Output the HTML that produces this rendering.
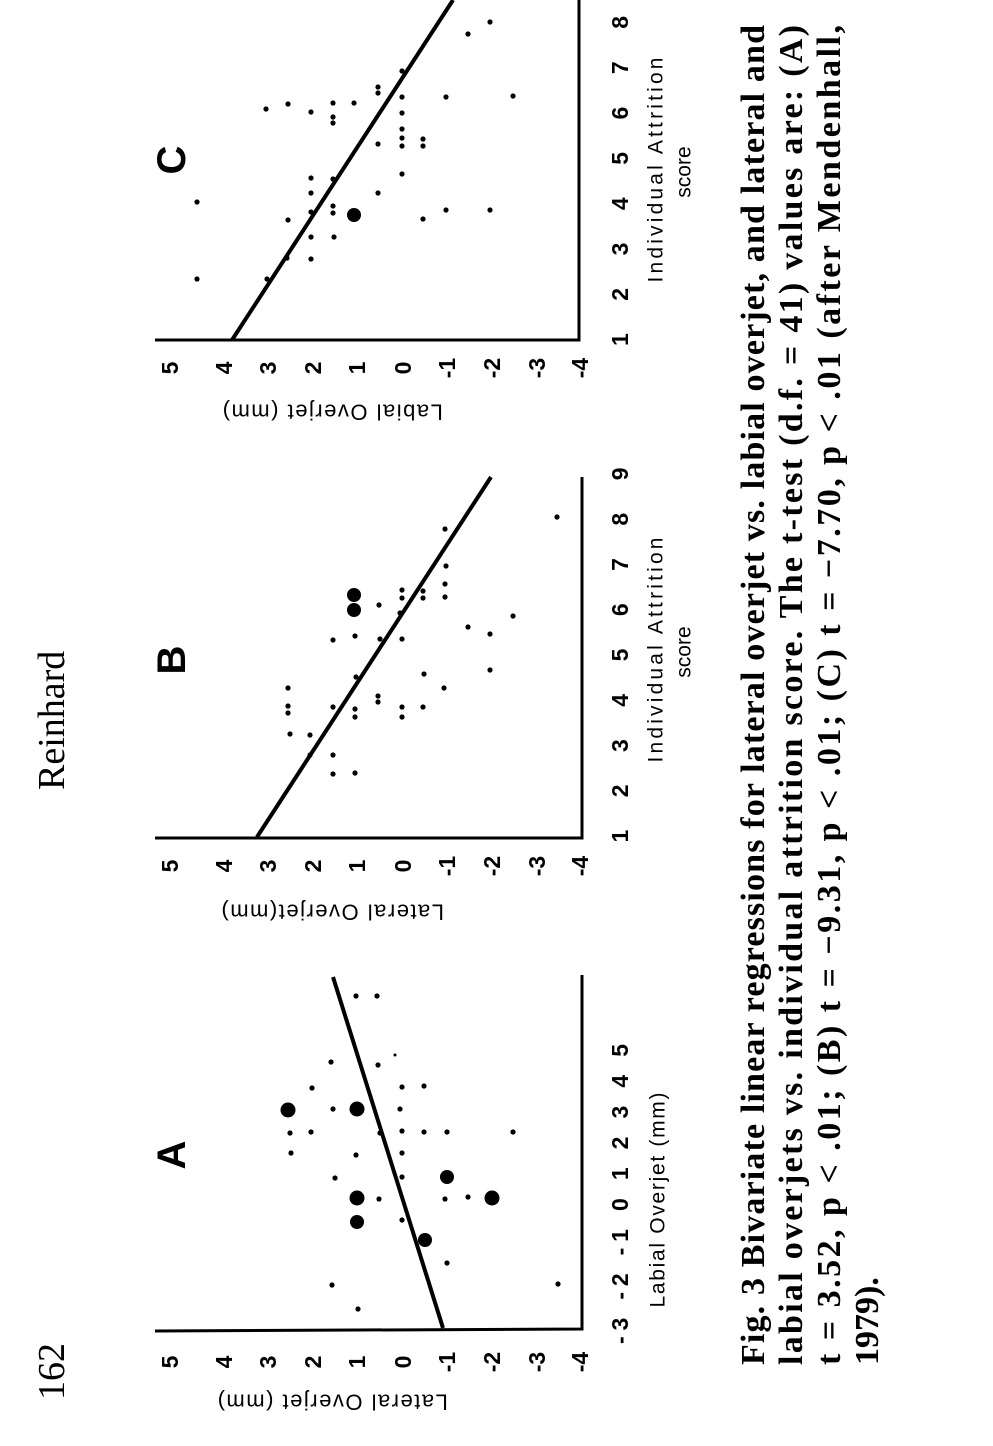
<!DOCTYPE html>
<html><head><meta charset="utf-8"><style>
html,body{margin:0;padding:0;background:#fff;}
svg{display:block;}
.t{font-family:"Liberation Sans",sans-serif;fill:#000;}
.s{font-family:"Liberation Serif",serif;font-weight:bold;fill:#000;}
</style></head><body>
<svg width="993" height="1446" viewBox="0 0 993 1446" xmlns="http://www.w3.org/2000/svg">
<rect width="993" height="1446" fill="#fff"/>
<text class="s" style="font-weight:normal;font-size:38px" x="64" y="1400" transform="rotate(-90 64 1400)">162</text>
<text class="s" style="font-weight:normal;font-size:38px" x="64" y="790" transform="rotate(-90 64 790)">Reinhard</text>

<g stroke="#000" fill="none">
<polyline points="155,1331 582,1329 582,975" stroke-width="3"/>
<polyline points="155,838 582,838 582,477" stroke-width="3"/>
<polyline points="155,340 579,340 579,0" stroke-width="3"/>
<line x1="333" y1="977" x2="443" y2="1328" stroke-width="4"/>
<line x1="257" y1="837" x2="491" y2="477" stroke-width="4"/>
<line x1="232" y1="340" x2="453" y2="0" stroke-width="4"/>
</g>

<g fill="#000">
<circle cx="356" cy="996" r="2.6"/><circle cx="377" cy="996" r="2.6"/><circle cx="331" cy="1062" r="2.6"/><circle cx="378" cy="1065" r="2.6"/><circle cx="395" cy="1055" r="1.5"/><circle cx="312" cy="1088" r="2.6"/><circle cx="402" cy="1087" r="2.6"/><circle cx="424" cy="1086" r="2.6"/><circle cx="333" cy="1109" r="2.6"/><circle cx="400" cy="1109" r="2.6"/><circle cx="290" cy="1133" r="2.6"/><circle cx="311" cy="1132" r="2.6"/><circle cx="380" cy="1133" r="2.6"/><circle cx="402" cy="1131" r="2.6"/><circle cx="424" cy="1132" r="2.6"/><circle cx="447" cy="1132" r="2.6"/><circle cx="513" cy="1132" r="2.6"/><circle cx="291" cy="1153" r="2.6"/><circle cx="356" cy="1155" r="2.6"/><circle cx="402" cy="1153" r="2.6"/><circle cx="335" cy="1178" r="2.6"/><circle cx="402" cy="1177" r="2.6"/><circle cx="379" cy="1199" r="2.6"/><circle cx="445" cy="1199" r="2.6"/><circle cx="468" cy="1197" r="2.6"/><circle cx="402" cy="1220" r="2.6"/><circle cx="447" cy="1263" r="2.6"/><circle cx="332" cy="1285" r="2.6"/><circle cx="558" cy="1284" r="2.6"/><circle cx="358" cy="1309" r="2.6"/>
<circle cx="288" cy="1110" r="7.5"/><circle cx="357" cy="1109" r="7.5"/><circle cx="447" cy="1177" r="7"/><circle cx="357" cy="1198" r="7.5"/><circle cx="492" cy="1198" r="7.5"/><circle cx="357" cy="1222" r="7"/><circle cx="425" cy="1240" r="7"/>
<circle cx="445" cy="529" r="2.6"/><circle cx="557" cy="517" r="2.6"/><circle cx="446" cy="566" r="2.6"/><circle cx="445" cy="584" r="2.6"/><circle cx="445" cy="597" r="2.6"/><circle cx="402" cy="590" r="2.6"/><circle cx="402" cy="598" r="2.6"/><circle cx="423" cy="591" r="2.6"/><circle cx="423" cy="598" r="2.6"/><circle cx="379" cy="605" r="2.6"/><circle cx="400" cy="613" r="2.6"/><circle cx="513" cy="616" r="2.6"/><circle cx="468" cy="627" r="2.6"/><circle cx="490" cy="634" r="2.6"/><circle cx="333" cy="640" r="2.6"/><circle cx="355" cy="636" r="2.6"/><circle cx="380" cy="639" r="2.6"/><circle cx="402" cy="639" r="2.6"/><circle cx="490" cy="670" r="2.6"/><circle cx="424" cy="674" r="2.6"/><circle cx="356" cy="677" r="2.6"/><circle cx="444" cy="688" r="2.6"/><circle cx="288" cy="688" r="2.6"/><circle cx="378" cy="696" r="2.6"/><circle cx="378" cy="702" r="2.6"/><circle cx="288" cy="706" r="2.6"/><circle cx="288" cy="713" r="2.6"/><circle cx="333" cy="707" r="2.6"/><circle cx="355" cy="709" r="2.6"/><circle cx="355" cy="717" r="2.6"/><circle cx="402" cy="707" r="2.6"/><circle cx="402" cy="717" r="2.6"/><circle cx="423" cy="707" r="2.6"/><circle cx="290" cy="734" r="2.6"/><circle cx="310" cy="735" r="2.6"/><circle cx="310" cy="755" r="2.6"/><circle cx="333" cy="755" r="2.6"/><circle cx="333" cy="774" r="2.6"/><circle cx="355" cy="773" r="2.6"/>
<circle cx="354" cy="595" r="7"/><circle cx="354" cy="610" r="7"/>
<circle cx="490" cy="22" r="2.6"/><circle cx="468" cy="34" r="2.6"/><circle cx="402" cy="71" r="2.6"/><circle cx="378" cy="87" r="2.6"/><circle cx="378" cy="93" r="2.6"/><circle cx="402" cy="97" r="2.6"/><circle cx="446" cy="97" r="2.6"/><circle cx="513" cy="96" r="2.6"/><circle cx="266" cy="109" r="2.6"/><circle cx="288" cy="104" r="2.6"/><circle cx="311" cy="112" r="2.6"/><circle cx="333" cy="103" r="2.6"/><circle cx="333" cy="117" r="2.6"/><circle cx="333" cy="123" r="2.6"/><circle cx="354" cy="103" r="2.6"/><circle cx="402" cy="113" r="2.6"/><circle cx="402" cy="129" r="2.6"/><circle cx="402" cy="138" r="2.6"/><circle cx="402" cy="146" r="2.6"/><circle cx="423" cy="139" r="2.6"/><circle cx="423" cy="146" r="2.6"/><circle cx="378" cy="144" r="2.6"/><circle cx="402" cy="174" r="2.6"/><circle cx="311" cy="178" r="2.6"/><circle cx="333" cy="179" r="2.6"/><circle cx="311" cy="193" r="2.6"/><circle cx="378" cy="193" r="2.6"/><circle cx="197" cy="202" r="2.6"/><circle cx="333" cy="206" r="2.6"/><circle cx="333" cy="213" r="2.6"/><circle cx="311" cy="212" r="2.6"/><circle cx="288" cy="220" r="2.6"/><circle cx="423" cy="219" r="2.6"/><circle cx="446" cy="210" r="2.6"/><circle cx="490" cy="210" r="2.6"/><circle cx="311" cy="237" r="2.6"/><circle cx="334" cy="237" r="2.6"/><circle cx="287" cy="258" r="2.6"/><circle cx="311" cy="259" r="2.6"/><circle cx="267" cy="279" r="2.6"/><circle cx="197" cy="279" r="2.6"/>
<circle cx="354" cy="215" r="7"/>
</g>

<g class="t" style="font-weight:bold;font-size:40px" text-anchor="middle" dominant-baseline="central">
<text x="172" y="1155" transform="rotate(-90 172 1155)">A</text>
<text x="172" y="660" transform="rotate(-90 172 660)">B</text>
<text x="172" y="160" transform="rotate(-90 172 160)">C</text>
</g>

<g class="t" style="font-weight:bold;font-size:23px" text-anchor="middle" dominant-baseline="central">
<text x="170" y="1362" transform="rotate(-90 170 1362)">5</text><text x="224" y="1362" transform="rotate(-90 224 1362)">4</text><text x="268" y="1362" transform="rotate(-90 268 1362)">3</text><text x="313" y="1362" transform="rotate(-90 313 1362)">2</text><text x="357" y="1362" transform="rotate(-90 357 1362)">1</text><text x="403" y="1362" transform="rotate(-90 403 1362)">0</text><text x="447" y="1362" transform="rotate(-90 447 1362)">-1</text><text x="492" y="1362" transform="rotate(-90 492 1362)">-2</text><text x="537" y="1362" transform="rotate(-90 537 1362)">-3</text><text x="580" y="1362" transform="rotate(-90 580 1362)">-4</text>
<text x="170" y="866" transform="rotate(-90 170 866)">5</text><text x="224" y="866" transform="rotate(-90 224 866)">4</text><text x="268" y="866" transform="rotate(-90 268 866)">3</text><text x="313" y="866" transform="rotate(-90 313 866)">2</text><text x="357" y="866" transform="rotate(-90 357 866)">1</text><text x="403" y="866" transform="rotate(-90 403 866)">0</text><text x="447" y="866" transform="rotate(-90 447 866)">-1</text><text x="492" y="866" transform="rotate(-90 492 866)">-2</text><text x="537" y="866" transform="rotate(-90 537 866)">-3</text><text x="580" y="866" transform="rotate(-90 580 866)">-4</text>
<text x="170" y="368" transform="rotate(-90 170 368)">5</text><text x="224" y="368" transform="rotate(-90 224 368)">4</text><text x="268" y="368" transform="rotate(-90 268 368)">3</text><text x="313" y="368" transform="rotate(-90 313 368)">2</text><text x="357" y="368" transform="rotate(-90 357 368)">1</text><text x="403" y="368" transform="rotate(-90 403 368)">0</text><text x="447" y="368" transform="rotate(-90 447 368)">-1</text><text x="492" y="368" transform="rotate(-90 492 368)">-2</text><text x="537" y="368" transform="rotate(-90 537 368)">-3</text><text x="580" y="368" transform="rotate(-90 580 368)">-4</text>
<text x="620" y="1194" transform="rotate(-90 620 1194)" textLength="300" lengthAdjust="spacing">-3 -2 -1  0  1  2  3  4  5</text>
<text x="620" y="655" transform="rotate(-90 620 655)" textLength="375" lengthAdjust="spacing">1   2   3   4   5   6   7   8   9</text>
<text x="620" y="181" transform="rotate(-90 620 181)" textLength="330" lengthAdjust="spacing">1   2   3   4   5   6   7   8</text>
</g>

<g class="t" style="font-size:21px" text-anchor="middle" dominant-baseline="central">
<text x="658" y="1200" transform="rotate(-90 658 1200)" textLength="215" lengthAdjust="spacing">Labial Overjet (mm)</text>
<text x="656" y="650" transform="rotate(-90 656 650)" textLength="225" lengthAdjust="spacing">Individual Attrition</text>
<text x="684" y="652" transform="rotate(-90 684 652)">score</text>
<text x="656" y="170" transform="rotate(-90 656 170)" textLength="225" lengthAdjust="spacing">Individual Attrition</text>
<text x="684" y="172" transform="rotate(-90 684 172)">score</text>
<text x="332" y="1402" transform="rotate(180 332 1402)" style="font-size:22px;letter-spacing:1.5px">Lateral Overjet (mm)</text>
<text x="332" y="912" transform="rotate(180 332 912)" style="font-size:22px;letter-spacing:1.5px">Lateral Overjet(mm)</text>
<text x="332" y="412" transform="rotate(180 332 412)" style="font-size:22px;letter-spacing:1.5px">Labial Overjet (mm)</text>
</g>

<g class="s" style="font-size:34px">
<text x="764" y="1365" transform="rotate(-90 764 1365)" textLength="1340" lengthAdjust="spacing">Fig. 3   Bivariate linear regressions for lateral overjet vs. labial overjet, and lateral and</text>
<text x="802" y="1365" transform="rotate(-90 802 1365)" textLength="1340" lengthAdjust="spacing">labial overjets vs. individual attrition score. The t-test (d.f. = 41) values are: (A)</text>
<text x="840" y="1365" transform="rotate(-90 840 1365)" textLength="1340" lengthAdjust="spacing">t = 3.52, p &lt; .01; (B) t = −9.31, p &lt; .01; (C) t = −7.70, p &lt; .01 (after Mendenhall,</text>
<text x="878" y="1365" transform="rotate(-90 878 1365)">1979).</text>
</g>
</svg>
</body></html>
